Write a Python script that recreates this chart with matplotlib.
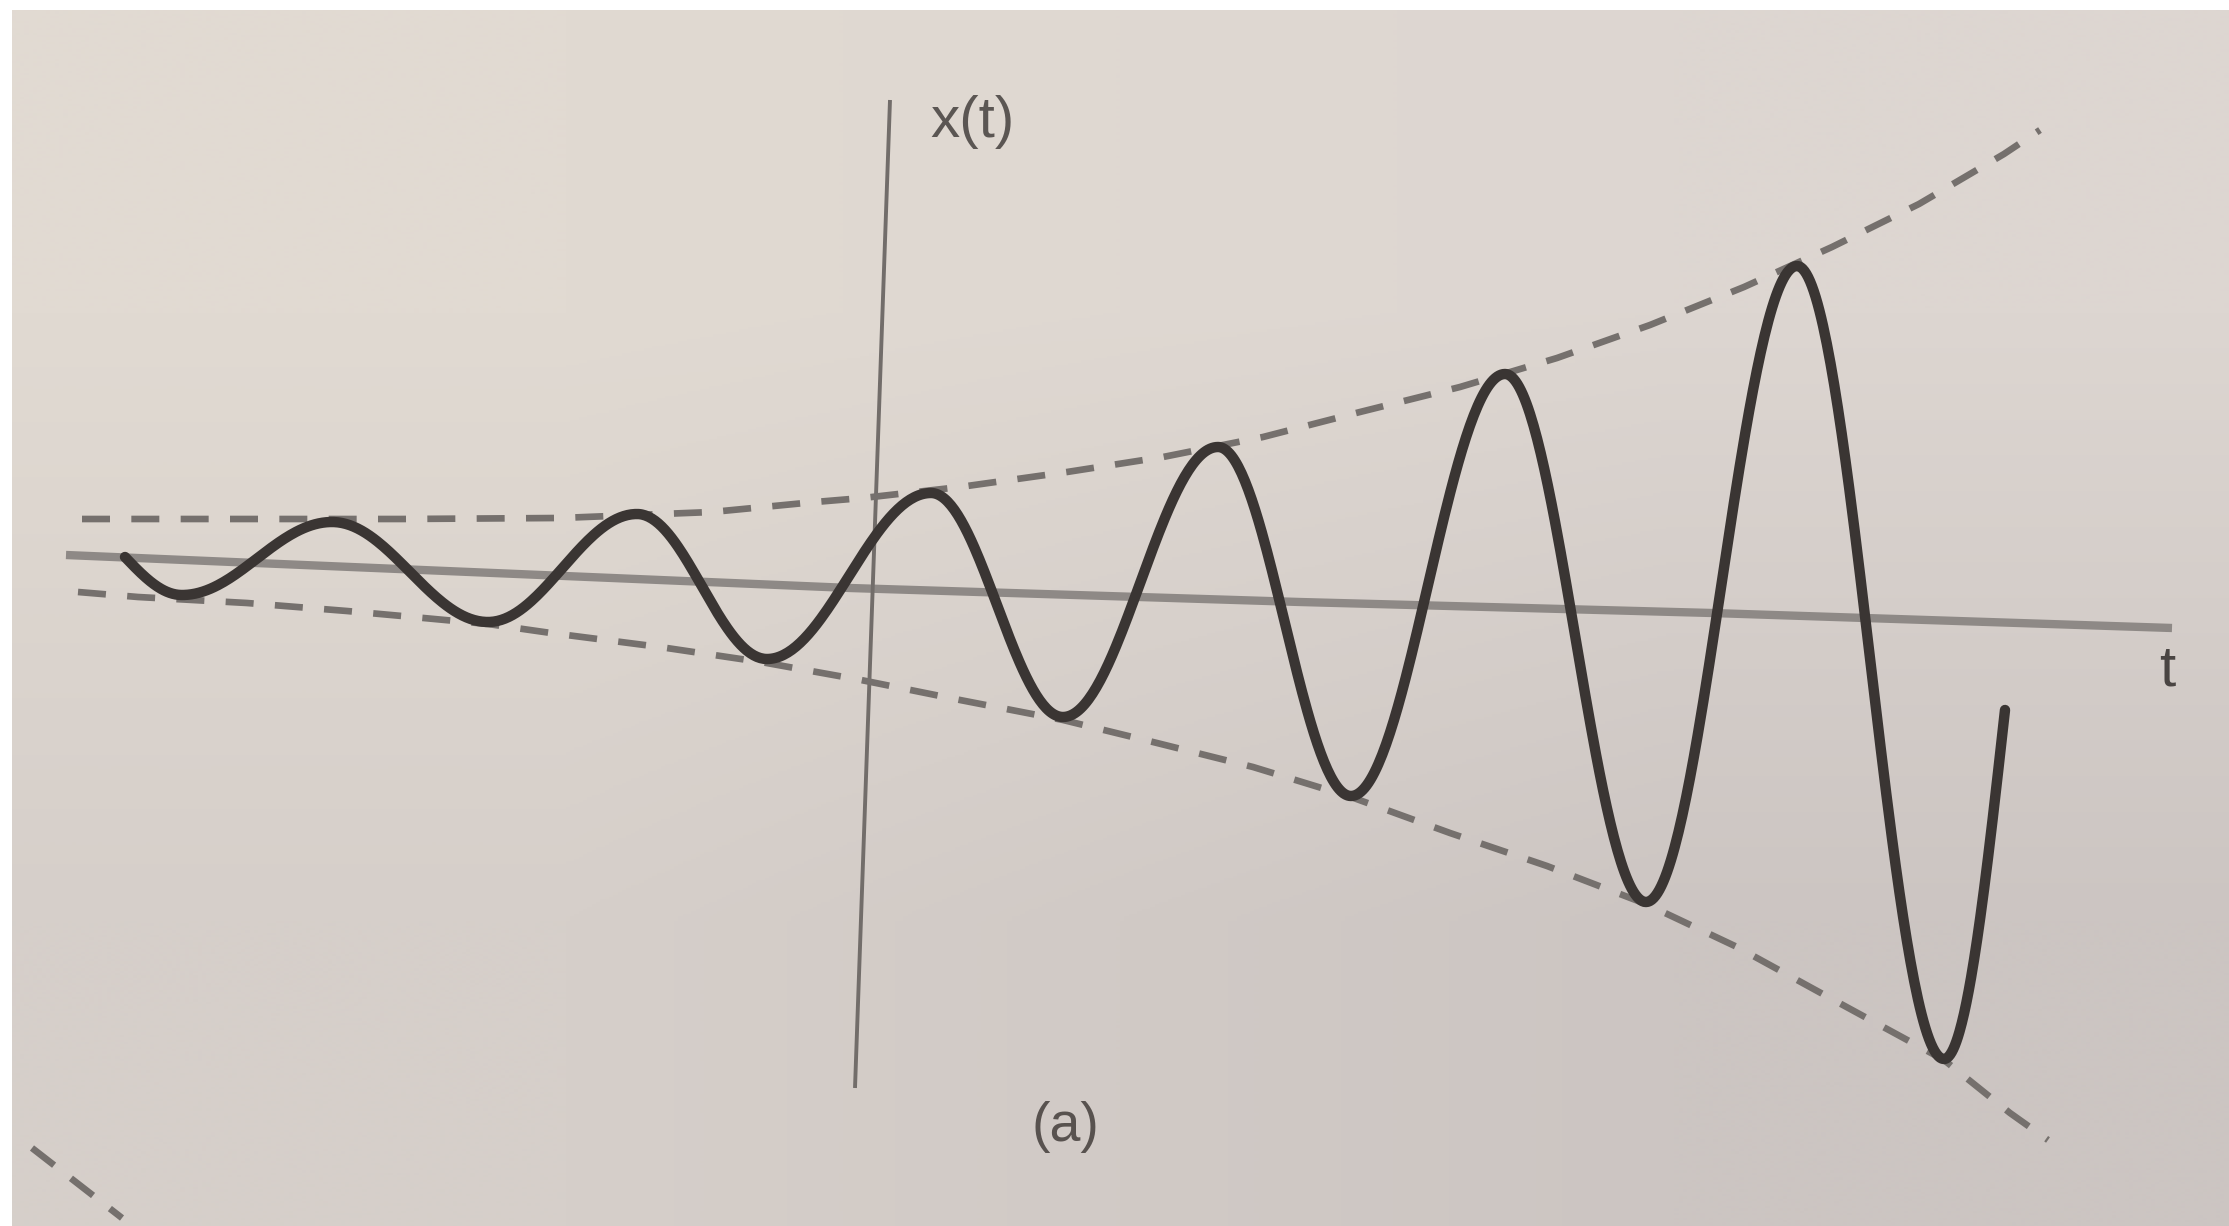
import numpy as np
import matplotlib.pyplot as plt

# photographed textbook figure: values are in picture units (pixels, y down)
W, H = 2229, 1226

# extrema of the growing oscillation (start, troughs/peaks, end)
curve_t = [125, 182, 332, 488, 637, 767, 931, 1063, 1218, 1351, 1505, 1646, 1797, 1944, 2005]
curve_x = [557, 595, 522, 622, 514, 659, 493, 717, 447, 796, 374, 902, 266, 1059, 710]

# dashed envelopes
upper_t = [82, 250, 402, 560, 712, 815, 863, 960, 1067, 1163, 1263, 1360, 1460,
           1557, 1650, 1744, 1832, 1919, 2004, 2040]
upper_x = [519, 519, 519, 518, 512, 502, 498, 487, 472, 457, 437, 412, 387,
           358, 325, 287, 247, 204, 154, 130]
lower_t = [78, 138, 247, 347, 402, 488, 551, 660, 761, 861, 960, 1063, 1157,
           1253, 1351, 1450, 1547, 1646, 1737, 1830, 1944, 2010, 2048]
lower_x = [592, 597, 603, 611, 616, 624, 633, 647, 662, 680, 700, 720, 743,
           767, 797, 833, 866, 904, 947, 998, 1060, 1113, 1140]

# axes as drawn in the photo (slightly tilted)
t_axis_t = [66, 850, 1300, 1712, 2172]
t_axis_x = [555, 588, 602, 613, 628]
x_axis_t = [890, 855]
x_axis_x = [100, 1088]

# stray dashed line from the neighbouring figure, bottom left
stray_t = [32, 122]
stray_x = [1148, 1218]


def smooth_through(ts, xs, n=80):
    # sine-like strokes between consecutive extrema
    out_t, out_x = [], []
    last = len(ts) - 2
    for i in range(len(ts) - 1):
        s = np.linspace(0, 1, n)
        if i == 0:
            w = np.sin(np.pi / 2 * s)
        elif i == last:
            w = 1 - np.cos(np.pi / 2 * s)
        else:
            w = (1 - np.cos(np.pi * s)) / 2
        out_t.append(ts[i] + (ts[i + 1] - ts[i]) * s)
        out_x.append(xs[i] + (xs[i + 1] - xs[i]) * w)
    return np.concatenate(out_t), np.concatenate(out_x)


fig = plt.figure(figsize=(W / 100, H / 100), dpi=100, facecolor="white")
ax = fig.add_axes([0, 0, 1, 1])

# paper background, a bit lighter at the top left
bg = np.array([[[225, 218, 210], [221, 214, 209]],
               [[214, 207, 202], [204, 197, 194]]]) / 255
ax.imshow(bg, extent=(12, W, H, 10), interpolation="bilinear", aspect="auto", zorder=0)

dash_style = dict(color="#75706d", lw=4.8, linestyle=(0, (4.2, 3.2)), solid_capstyle="butt")
ax.plot(upper_t, upper_x, **dash_style, zorder=2)
ax.plot(lower_t, lower_x, **dash_style, zorder=2)
ax.plot(stray_t, stray_x, **dash_style, zorder=2)

ax.plot(t_axis_t, t_axis_x, color="#8e8986", lw=6, solid_capstyle="butt", zorder=1)
ax.plot(x_axis_t, x_axis_x, color="#726d6a", lw=2.8, solid_capstyle="butt", zorder=1)

ct, cx = smooth_through(curve_t, curve_x)
ax.plot(ct, cx, color="#3a3533", lw=7.5, solid_capstyle="round", zorder=3)

ax.text(972, 122, "x(t)", fontsize=42, color="#5b5653", family="Liberation Sans",
        ha="center", va="center")
ax.text(2167, 670, "t", fontsize=42, color="#4a4543", family="Liberation Sans",
        ha="center", va="center")
ax.text(1065, 1127, "(a)", fontsize=40, color="#58524f", family="Liberation Sans",
        ha="center", va="center")

ax.set_xlim(0, W)
ax.set_ylim(H, 0)
ax.axis("off")

plt.savefig("out.png", dpi=100, facecolor=fig.get_facecolor())
